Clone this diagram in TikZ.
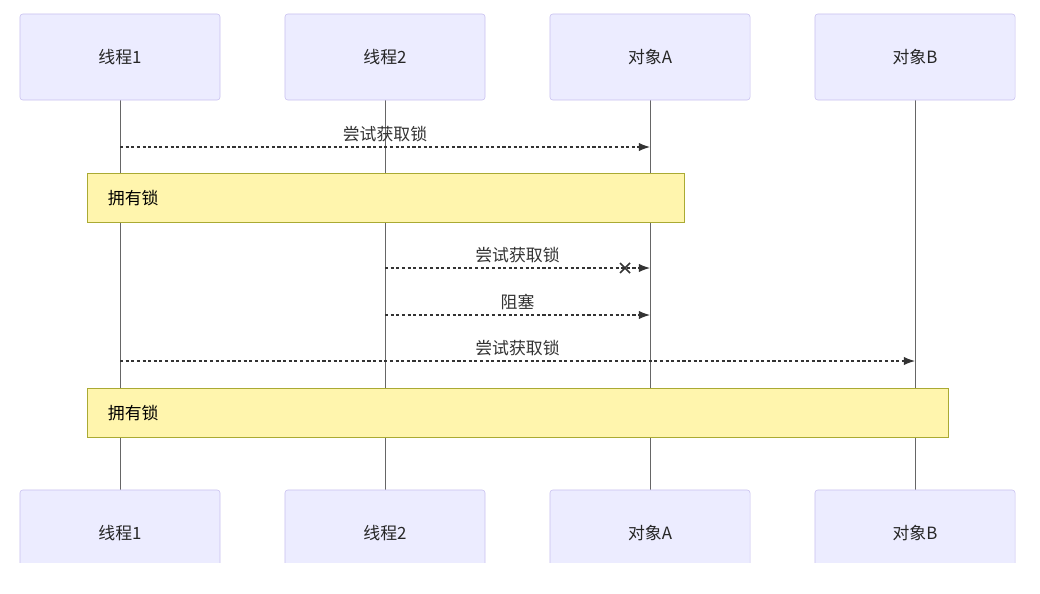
\documentclass[tikz,border=0pt]{standalone}
\usepackage{fontspec}
\setmainfont{Noto Sans CJK SC}
\usetikzlibrary{arrows.meta,positioning,calc}
\definecolor{actorfill}{HTML}{ECECFF}
\definecolor{actorline}{HTML}{C8C0F0}
\definecolor{notefill}{HTML}{FFF5AD}
\definecolor{noteline}{HTML}{AAAA33}
\definecolor{msgline}{HTML}{333333}

\begin{document}
\begin{tikzpicture}[
    x=0.025cm, y=-0.025cm,
    actor/.style={rectangle, draw=actorline, fill=actorfill, rounded corners=2pt, minimum width=5cm, minimum height=2.15cm, font=\fontsize{12}{14}\selectfont, text=black!85},
    note/.style={rectangle, draw=noteline, fill=notefill, anchor=north west, inner sep=0pt},
    lifeline/.style={draw=black!60, line width=0.6pt},
    msg/.style={dash pattern=on 2.2pt off 1.8pt, draw=msgline, line width=0.8pt, -{Latex[length=8pt,width=6pt]}},
    msglabel/.style={font=\fontsize{12}{14}\selectfont, text=black!80, above=0pt}
]
    \useasboundingbox (0,0) rectangle (1040,593);
    \begin{scope}
    \clip (0,0) rectangle (1040,562);

    % ============================================================
    % LIFELINES
    % ============================================================
    \foreach \name/\x in {ta/120, tb/385, oa/650, ob/915} {
        \coordinate (\name-top) at (\x,100);
        \coordinate (\name-bot) at (\x,490);
        \draw[lifeline] (\name-top) -- (\name-bot);
    }

    % ============================================================
    % NOTES
    % ============================================================
    \node[note, minimum width=14.925cm, minimum height=1.225cm] (own1) at (87,173) {};
    \node[font=\fontsize{12}{14}\selectfont, anchor=west] (own1-text) at ($(own1.west)+(16,0)$) {拥有锁};
    \node[note, minimum width=21.525cm, minimum height=1.225cm] (own2) at (87,388) {};
    \node[font=\fontsize{12}{14}\selectfont, anchor=west] (own2-text) at ($(own2.west)+(16,0)$) {拥有锁};

    % ============================================================
    % ACTORS
    % ============================================================
    \foreach \name/\x/\txt in {ta/120/线程1, tb/385/线程2, oa/650/对象A, ob/915/对象B} {
        \node[actor] (\name-head) at (\x,57) {\txt};
        \node[actor] (\name-foot) at (\x,533) {\txt};
    }

    % ============================================================
    % MESSAGES
    % ============================================================
    \coordinate (m1a) at (120,147); \coordinate (m1b) at (650,147);
    \draw[msg] (m1a) -- node[msglabel] {尝试获取锁} (m1b);

    \coordinate (m2a) at (385,268); \coordinate (m2b) at (650,268);
    \coordinate (m2x) at (625,268);
    \draw[msg] (m2a) -- node[msglabel] {尝试获取锁} (m2b);
    \draw[msgline, line width=1.2pt] ($(m2x)+(-5,-5)$) -- ($(m2x)+(5,5)$)
                                     ($(m2x)+(-5,5)$) -- ($(m2x)+(5,-5)$);

    \coordinate (m3a) at (385,315); \coordinate (m3b) at (650,315);
    \draw[msg] (m3a) -- node[msglabel] {阻塞} (m3b);

    \coordinate (m4a) at (120,361); \coordinate (m4b) at (915,361);
    \draw[msg] (m4a) -- node[msglabel] {尝试获取锁} (m4b);
    \end{scope}
\end{tikzpicture}
\end{document}
